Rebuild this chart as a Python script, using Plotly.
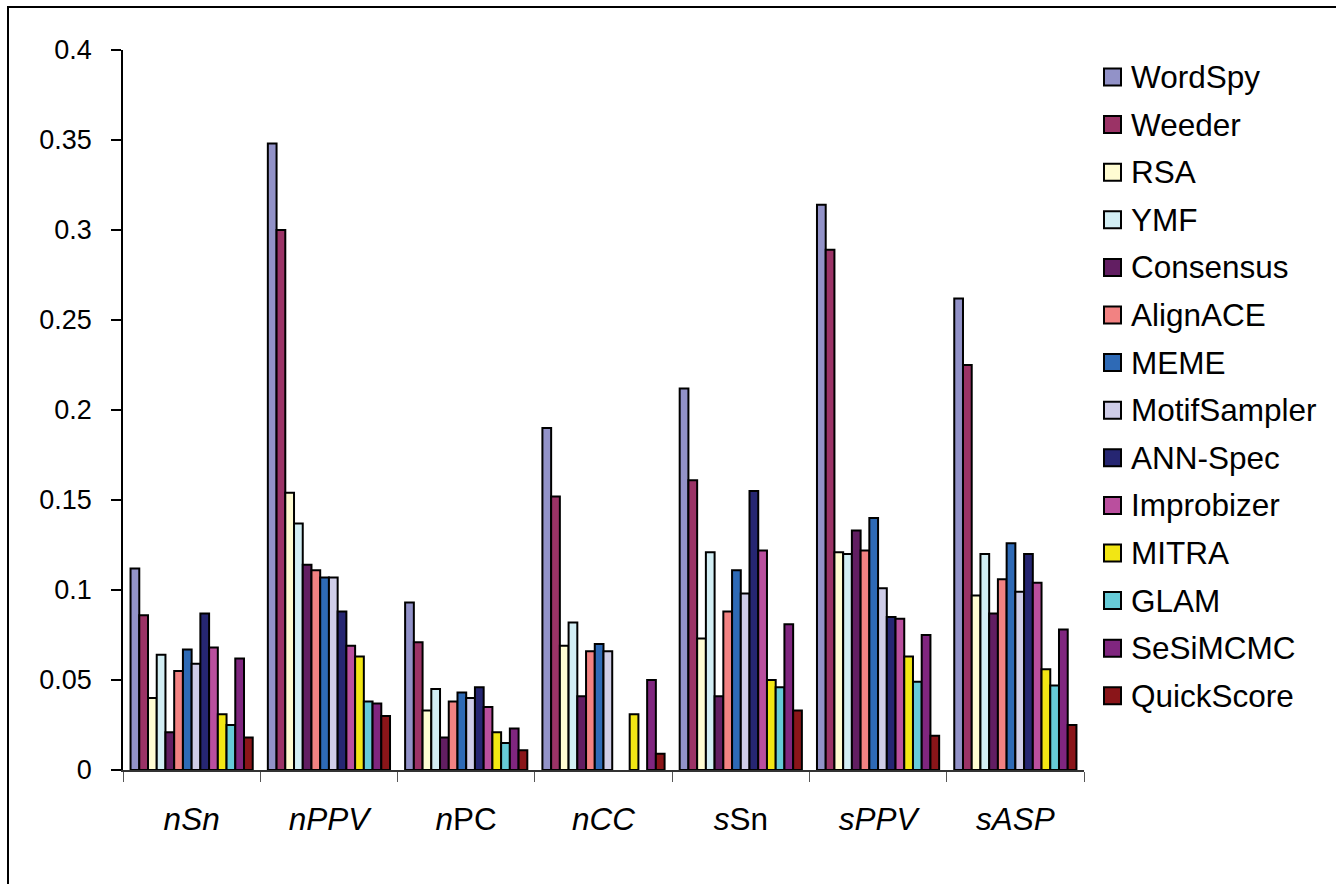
import plotly.graph_objects as go

# Evaluation measures (x categories) and motif-finding tools (series)
categories = ["<i>nSn</i>", "<i>nPPV</i>", "<i>n</i>PC", "<i>nCC</i>",
              "<i>s</i>Sn", "<i>sPPV</i>", "<i>sASP</i>"]

tools = ["WordSpy", "Weeder", "RSA", "YMF", "Consensus", "AlignACE", "MEME",
         "MotifSampler", "ANN-Spec", "Improbizer", "MITRA", "GLAM",
         "SeSiMCMC", "QuickScore"]

wordspy      = [0.112, 0.348, 0.093, 0.190, 0.212, 0.314, 0.262]
weeder       = [0.086, 0.300, 0.071, 0.152, 0.161, 0.289, 0.225]
rsa          = [0.040, 0.154, 0.033, 0.069, 0.073, 0.121, 0.097]
ymf          = [0.064, 0.137, 0.045, 0.082, 0.121, 0.120, 0.120]
consensus    = [0.021, 0.114, 0.018, 0.041, 0.041, 0.133, 0.087]
alignace     = [0.055, 0.111, 0.038, 0.066, 0.088, 0.122, 0.106]
meme         = [0.067, 0.107, 0.043, 0.070, 0.111, 0.140, 0.126]
motifsampler = [0.059, 0.107, 0.040, 0.066, 0.098, 0.101, 0.099]
annspec      = [0.087, 0.088, 0.046, None,  0.155, 0.085, 0.120]
improbizer   = [0.068, 0.069, 0.035, None,  0.122, 0.084, 0.104]
mitra        = [0.031, 0.063, 0.021, 0.031, 0.050, 0.063, 0.056]
glam         = [0.025, 0.038, 0.015, None,  0.046, 0.049, 0.047]
sesimcmc     = [0.062, 0.037, 0.023, 0.050, 0.081, 0.075, 0.078]
quickscore   = [0.018, 0.030, 0.011, 0.009, 0.033, 0.019, 0.025]

series_values = [wordspy, weeder, rsa, ymf, consensus, alignace, meme,
                 motifsampler, annspec, improbizer, mitra, glam, sesimcmc,
                 quickscore]

colors = ["#9292C8", "#9B3366", "#FFFCD2", "#D2EEF4", "#621E62", "#F28282",
          "#2E6AB6", "#CFCDE8", "#262672", "#BA4F9E", "#F2E614", "#66CBD8",
          "#80267F", "#8A1519"]

y_ticks = [0, 0.05, 0.1, 0.15, 0.2, 0.25, 0.3, 0.35, 0.4]
y_tick_text = ["0", "0.05", "0.1", "0.15", "0.2", "0.25", "0.3", "0.35", "0.4"]

FONT = "Liberation Sans, Arial, sans-serif"
W, H = 1336, 884
ML, MR, MT, MB = 123, 252, 50, 114
PW, PH = W - ML - MR, H - MT - MB


def px_x(px):
    return (px - ML) / PW


def px_y(py):
    return (H - MB - py) / PH


fig = go.Figure()
for name, vals, col in zip(tools, series_values, colors):
    fig.add_trace(go.Bar(
        x=categories, y=vals, name=name,
        marker=dict(color=col, line=dict(color="#000000", width=2)),
        showlegend=False,
    ))

# Legend drawn as swatch + label column on the right
shapes = [
    # outer frame (top and left edges visible)
    dict(type="rect", xref="paper", yref="paper",
         x0=px_x(8), x1=px_x(W + 20), y0=px_y(H + 20), y1=px_y(7),
         line=dict(color="#000000", width=2), fillcolor="rgba(0,0,0,0)",
         layer="below"),
]
annotations = []
for i, (name, col) in enumerate(zip(tools, colors)):
    cy = 77 + i * 47.6
    shapes.append(dict(type="rect", xref="paper", yref="paper",
                       x0=px_x(1104), x1=px_x(1121),
                       y0=px_y(cy + 8.5), y1=px_y(cy - 8.5),
                       fillcolor=col, line=dict(color="#000000", width=2)))
    annotations.append(dict(xref="paper", yref="paper", x=px_x(1129),
                            y=px_y(cy), text=name, showarrow=False,
                            xanchor="left", yanchor="middle",
                            font=dict(family=FONT, size=31.5, color="#000000")))

fig.update_layout(
    width=W, height=H,
    margin=dict(l=ML, r=MR, t=MT, b=MB, pad=0),
    paper_bgcolor="#FFFFFF", plot_bgcolor="#FFFFFF",
    barmode="group", bargap=0.11, bargroupgap=0,
    font=dict(family=FONT, size=27, color="#000000"),
    shapes=shapes, annotations=annotations,
    showlegend=False,
)
fig.update_xaxes(
    type="category", tickson="boundaries", ticks="outside", ticklen=10,
    tickwidth=1, tickcolor="#555555", showline=True, linecolor="#333333",
    linewidth=2, showgrid=False, zeroline=False, ticklabelstandoff=20,
    tickfont=dict(family=FONT, size=31.5, color="#000000"),
)
fig.update_yaxes(
    range=[0, 0.4], tickmode="array", tickvals=y_ticks, ticktext=y_tick_text,
    ticks="outside", ticklen=10, tickwidth=1.5, tickcolor="#000000",
    showline=True, linecolor="#000000", linewidth=1.5, showgrid=False,
    zeroline=False, ticklabelstandoff=14,
    tickfont=dict(family=FONT, size=27, color="#000000"),
)

fig.write_html("out.html")
